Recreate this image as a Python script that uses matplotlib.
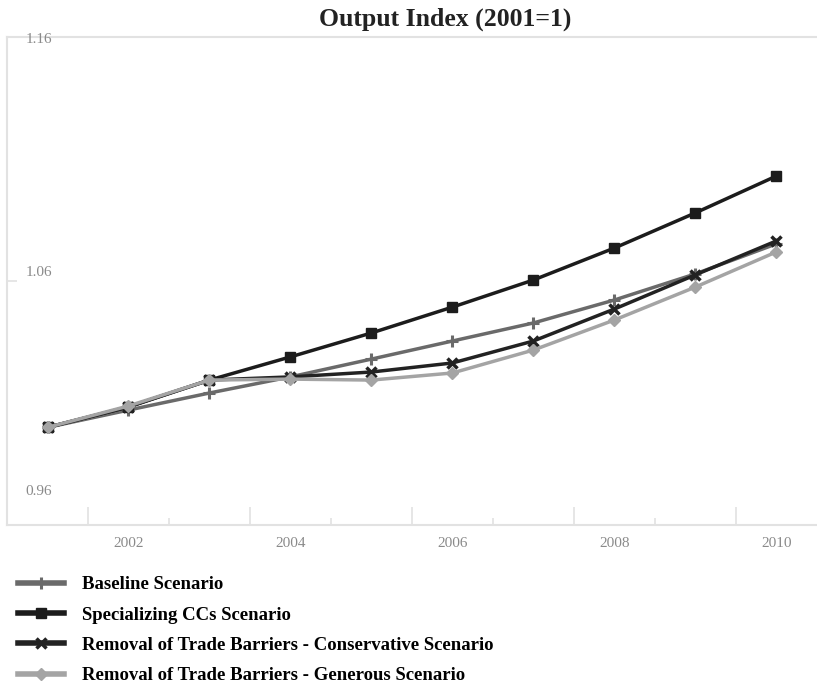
import matplotlib
matplotlib.use("Agg")
import matplotlib.pyplot as plt
from matplotlib.ticker import FixedLocator, NullFormatter

plt.rcParams['font.family'] = ['Liberation Serif', 'DejaVu Serif']

years = ['2001', '2002', '2003', '2004', '2005', '2006', '2007', '2008', '2009', '2010']
baseline = [1.000, 1.0071, 1.0141, 1.0207, 1.0280, 1.0354, 1.0428, 1.0522, 1.0629, 1.0752]
specializing = [1.000, 1.0084, 1.0194, 1.0289, 1.0387, 1.0493, 1.0604, 1.0735, 1.0879, 1.1030]
conservative = [1.000, 1.0084, 1.0194, 1.0207, 1.0227, 1.0264, 1.0354, 1.0485, 1.0625, 1.0764]
generous = [1.000, 1.0088, 1.0194, 1.0198, 1.0194, 1.0223, 1.0317, 1.0440, 1.0575, 1.0719]
labels = ['Baseline Scenario', 'Specializing CCs Scenario',
          'Removal of Trade Barriers - Conservative Scenario',
          'Removal of Trade Barriers - Generous Scenario']
y_ticks = [0.96, 1.06, 1.16]

FRAME = '#e2e2e2'
TICKTXT = '#8a8a8a'

fig = plt.figure(figsize=(8.17, 6.86), dpi=100)
ax = fig.add_axes([0.0086, 0.2347, 0.991, 0.7113])

x = list(range(len(years)))
h1, = ax.plot(x, baseline, color='#6a6a6a', lw=2.5, marker='+', ms=9, mew=2.2, zorder=3)
h2, = ax.plot(x, specializing, color='#1c1c1c', lw=2.5, marker='s', ms=7, zorder=4)
h3, = ax.plot(x, conservative, color='#222222', lw=2.5, marker='x', ms=7, mew=2.5, zorder=5)
h4, = ax.plot(x, generous, color='#a4a4a4', lw=2.5, marker='D', ms=6, zorder=6)

ax.set_xlim(-0.5, len(years) - 0.5)
ax.set_ylim(y_ticks[0], y_ticks[-1])

for side in ['top', 'bottom', 'left']:
    ax.spines[side].set_color(FRAME)
    ax.spines[side].set_linewidth(1.5)
ax.spines['right'].set_visible(False)

# category axis: ticks between years, labels on every other year
ax.xaxis.set_major_locator(FixedLocator([0.5, 2.5, 4.5, 6.5, 8.5]))
ax.xaxis.set_minor_locator(FixedLocator([1.5, 3.5, 5.5, 7.5]))
ax.xaxis.set_major_formatter(NullFormatter())
ax.tick_params(axis='x', which='major', direction='in', length=13, width=1.2, color=FRAME)
ax.tick_params(axis='x', which='minor', direction='in', length=5, width=1.2, color=FRAME)
for i in range(1, len(years), 2):
    ax.annotate(years[i], (i, 0), xycoords=('data', 'axes fraction'),
                xytext=(0, -13), textcoords='offset points', ha='center', va='center',
                fontsize=11, color=TICKTXT)

ax.set_yticks(y_ticks)
ax.set_yticklabels([])
ax.tick_params(axis='y', direction='in', length=7, width=1.2, color=FRAME)
# label placement in the original is a bit irregular
offsets = [24, 6, -2]
for v, dy in zip(y_ticks, offsets):
    ax.annotate('%.2f' % v, (0, v), xycoords=('axes fraction', 'data'),
                xytext=(23, dy), textcoords='offset points',
                ha='center', va='center', fontsize=11, color=TICKTXT)

fig.text(0.545, 0.972, 'Output Index (2001=1)', ha='center', va='center',
         fontsize=18.5, fontweight='bold', color='#222222')

leg = fig.legend([h1, h2, h3, h4], labels, loc='upper left', bbox_to_anchor=(0.013, 0.171),
                 frameon=False, handlelength=2.45, handletextpad=0.95, labelspacing=0.7,
                 prop={'weight': 'bold', 'size': 13.5}, borderaxespad=0)
for line in leg.get_lines():
    line.set_linewidth(4)

fig.savefig('out.png', dpi=100)
